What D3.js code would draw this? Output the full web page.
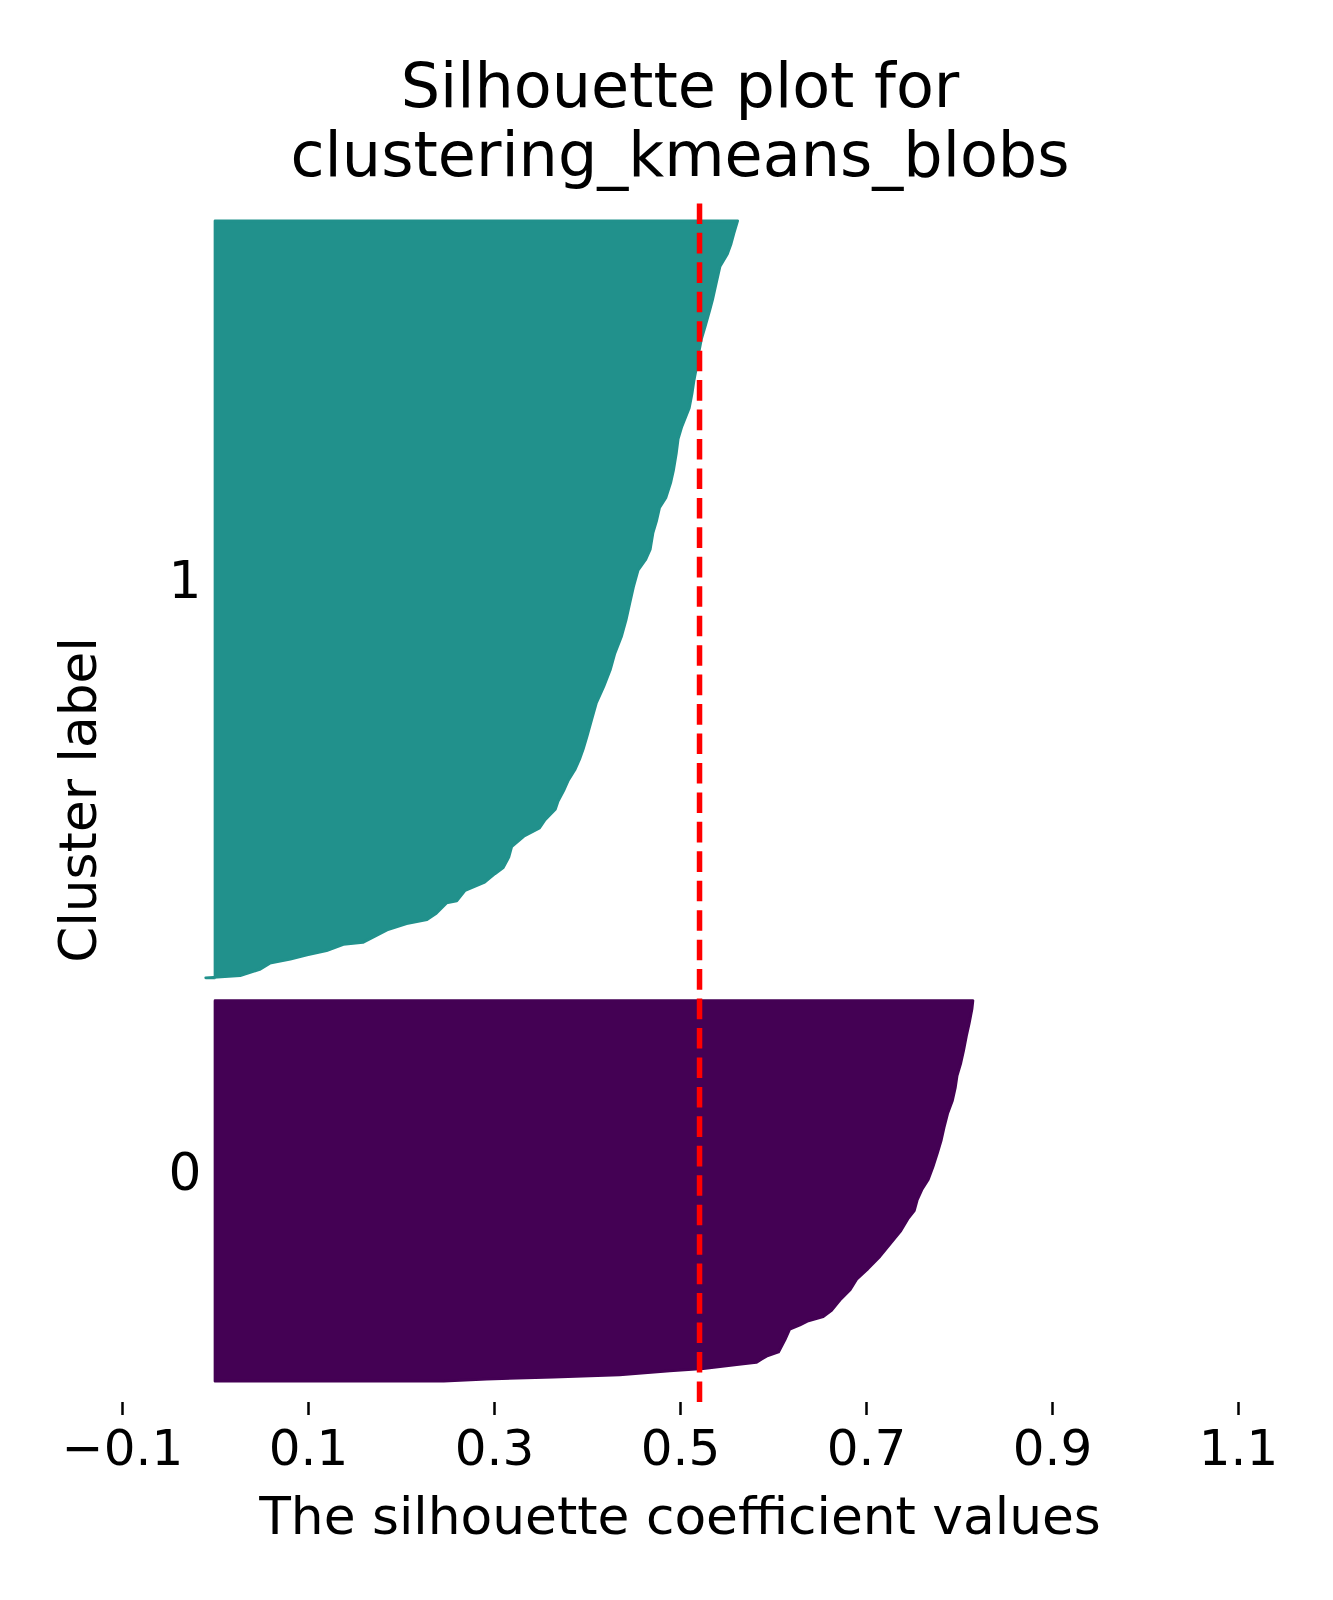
<!DOCTYPE html>
<html>
<head>
<meta charset="utf-8">
<script src="https://cdn.jsdelivr.net/npm/d3@7"></script>
<style>
  html, body { margin: 0; padding: 0; background: #ffffff; }
  svg { display: block; }
  text { font-family: "DejaVu Sans", sans-serif; fill: #000; }
</style>
</head>
<body>
<svg id="chart" width="1333" height="1600"></svg>
<script>
// ---------------- data ----------------
const titleLines = ["Silhouette plot for", "clustering_kmeans_blobs"];
const xLabel = "The silhouette coefficient values";
const yLabel = "Cluster label";
const xTicks = [-0.1, 0.1, 0.3, 0.5, 0.7, 0.9, 1.1];
const clusterLabels = ["0", "1"];
const clusterSizes = [184, 365];
const averageSilhouette = 0.521;

// sorted silhouette values (ascending) read at sample ranks within each cluster
const cluster0Ranks  = [0, 1, 2, 3, 5, 6, 8, 9, 12, 14, 20, 25, 27, 29, 31, 34, 39, 44, 49, 54, 60, 66, 72, 78, 82, 87, 92, 97, 103, 110, 116, 122, 129, 135, 141, 147, 153, 159, 166, 172, 179, 183];
const cluster0Values = [0.246, 0.292, 0.364, 0.435, 0.489, 0.525, 0.561, 0.582, 0.593, 0.606, 0.613, 0.618, 0.629, 0.638, 0.654, 0.663, 0.672, 0.683, 0.690, 0.702, 0.715, 0.726, 0.737, 0.745, 0.752, 0.755, 0.760, 0.767, 0.772, 0.777, 0.781, 0.784, 0.788, 0.793, 0.796, 0.798, 0.802, 0.805, 0.808, 0.811, 0.814, 0.815];

const cluster1Ranks  = [0, 1, 4, 7, 9, 11, 13, 16, 17, 20, 23, 26, 28, 31, 36, 37, 42, 46, 50, 53, 58, 63, 68, 72, 76, 81, 85, 90, 95, 100, 105, 110, 116, 124, 132, 140, 148, 156, 164, 172, 180, 188, 196, 201, 206, 214, 220, 226, 231, 238, 244, 252, 259, 265, 274, 281, 287, 294, 300, 307, 313, 321, 326, 334, 342, 348, 353, 358, 364];
const cluster1Values = [-0.010, 0.027, 0.048, 0.059, 0.081, 0.099, 0.120, 0.138, 0.159, 0.172, 0.185, 0.206, 0.228, 0.238, 0.249, 0.260, 0.269, 0.290, 0.301, 0.310, 0.316, 0.319, 0.332, 0.349, 0.355, 0.366, 0.369, 0.375, 0.380, 0.387, 0.392, 0.396, 0.400, 0.405, 0.410, 0.418, 0.425, 0.430, 0.437, 0.442, 0.446, 0.450, 0.455, 0.463, 0.468, 0.471, 0.475, 0.478, 0.485, 0.490, 0.493, 0.496, 0.498, 0.502, 0.510, 0.513, 0.515, 0.518, 0.520, 0.523, 0.527, 0.532, 0.535, 0.539, 0.543, 0.551, 0.555, 0.558, 0.562];

const clusterColors = ["#440154", "#21918c"];

// ---------------- layout ----------------
const W = 1333, H = 1600;
const plot = { left: 122, right: 1238, top: 198, bottom: 1402 };
const gap = 10;
const totalSamples = d3.sum(clusterSizes);

const svg = d3.select("#chart");
svg.append("rect").attr("width", W).attr("height", H).attr("fill", "#ffffff");

const x = d3.scaleLinear().domain([-0.1, 1.1]).range([plot.left, plot.right]);
const y = d3.scaleLinear().domain([0, totalSamples + (clusterSizes.length + 1) * gap])
  .range([plot.bottom, plot.top]);

// ---------------- silhouettes ----------------
const profiles = [
  { ranks: cluster0Ranks, values: cluster0Values },
  { ranks: cluster1Ranks, values: cluster1Values }
];

let yLower = gap;
profiles.forEach((p, ci) => {
  const pts = p.ranks.map((r, i) => ({ r, v: p.values[i] }));
  const base = yLower;
  const area = d3.area()
    .y(d => y(base + d.r))
    .x0(() => x(0))
    .x1(d => x(d.v))
    .curve(d3.curveLinear);
  svg.append("path")
    .datum(pts)
    .attr("d", area)
    .attr("fill", clusterColors[ci])
    .attr("stroke", clusterColors[ci])
    .attr("stroke-width", 2.7)
    .attr("stroke-linejoin", "round");

  // cluster label at middle
  svg.append("text")
    .attr("x", x(-0.05))
    .attr("y", y(yLower + 0.5 * clusterSizes[ci]))
    .attr("font-size", 51.8)
    .attr("text-anchor", "start")
    .text(clusterLabels[ci]);

  yLower = yLower + clusterSizes[ci] + gap;
});

// ---------------- average line ----------------
svg.append("line")
  .attr("x1", x(averageSilhouette)).attr("x2", x(averageSilhouette))
  .attr("y1", plot.bottom).attr("y2", plot.top)
  .attr("stroke", "#ff0000")
  .attr("stroke-width", 5.5)
  .attr("stroke-dasharray", "20.6 8.85");

// ---------------- x axis ----------------
const xAxis = d3.axisBottom(x)
  .tickValues(xTicks)
  .tickSize(13)
  .tickPadding(13)
  .tickFormat(d => d3.format(".1f")(d).replace("-", "\u2212"));
const gx = svg.append("g")
  .attr("transform", `translate(0,${plot.bottom})`)
  .call(xAxis);
gx.select(".domain").remove();
gx.selectAll(".tick line").attr("stroke", "#000").attr("stroke-width", 2.5);
gx.selectAll(".tick text")
  .attr("font-size", 50)
  .attr("font-family", "DejaVu Sans")
  .attr("fill", "#000")
  .attr("dy", null)
  .attr("y", 63);

// ---------------- labels ----------------
svg.append("text")
  .attr("x", (plot.left + plot.right) / 2)
  .attr("y", 1534)
  .attr("text-anchor", "middle")
  .attr("font-size", 51.8)
  .text(xLabel);

svg.append("text")
  .attr("transform", `translate(96, ${(plot.top + plot.bottom) / 2}) rotate(-90)`)
  .attr("text-anchor", "middle")
  .attr("font-size", 51.8)
  .text(yLabel);

const titleBaselines = [107, 176];
titleLines.forEach((t, i) => {
  svg.append("text")
    .attr("x", (plot.left + plot.right) / 2)
    .attr("y", titleBaselines[i])
    .attr("text-anchor", "middle")
    .attr("font-size", 62)
    .text(t);
});
</script>
</body>
</html>
